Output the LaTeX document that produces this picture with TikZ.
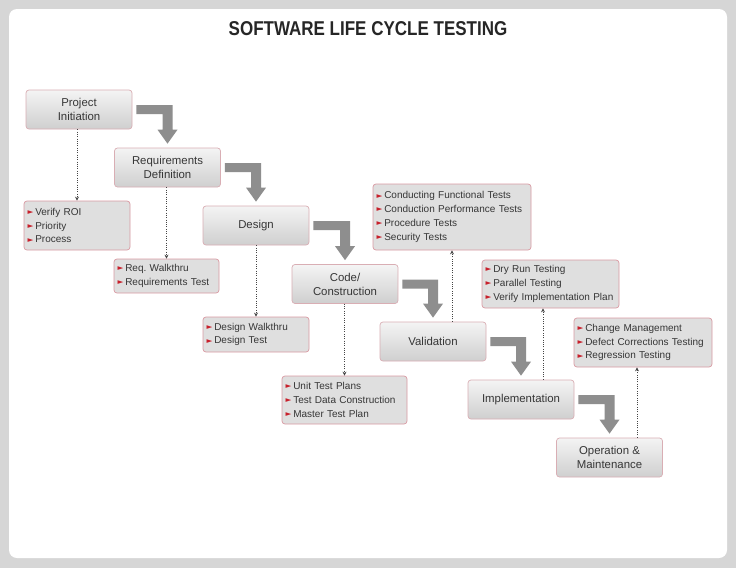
\documentclass[tikz,border=0pt]{standalone}
\usepackage{fontspec}
\setmainfont{Liberation Sans}
\setsansfont{Liberation Sans}
\newfontfamily\titlefont{Liberation Sans}[FakeStretch=0.85]
\newfontfamily\symfont{DejaVu Sans}
\usetikzlibrary{calc,arrows.meta}
\definecolor{bgcol}{HTML}{D6D6D6}
\definecolor{titlecol}{HTML}{262626}
\definecolor{txtcol}{HTML}{363636}
\definecolor{stageborder}{HTML}{D9AEB4}
\definecolor{boxborder}{HTML}{D99AA3}
\definecolor{stagetop}{HTML}{F4F4F4}
\definecolor{stagebot}{HTML}{CFCFCF}
\definecolor{boxfill}{HTML}{DFDFDF}
\definecolor{bulred}{HTML}{C8202C}
\definecolor{arrowgray}{HTML}{8E8E8E}
\definecolor{dotcol}{HTML}{454545}
\newcommand\bl{\raisebox{0.8pt}{\symfont\fontsize{7.5}{7.5}\selectfont\textcolor{bulred}{►}}\hspace{2pt}}
\newcommand\stagearrow[2]{%
  \fill[arrowgray] let \p1=(#1.east), \p2=(#2.north) in
   (\x1+4pt,\y1+4.5pt) -- (\x2+5pt,\y1+4.5pt) -- (\x2+5pt,\y2+18pt)
   -- (\x2+10pt,\y2+18pt) -- (\x2,\y2+4pt) -- (\x2-10pt,\y2+18pt)
   -- (\x2-5pt,\y2+18pt) -- (\x2-5pt,\y1-4.5pt) -- (\x1+4pt,\y1-4.5pt) -- cycle;}
\tikzset{
  stage/.style={draw=stageborder, line width=0.7pt, rounded corners=3pt,
    top color=stagetop, bottom color=stagebot, minimum width=106pt,
    minimum height=39pt, align=center, inner sep=0pt, text=txtcol,
    font=\fontsize{11.4}{14}\selectfont},
  bbox/.style={draw=boxborder, line width=0.7pt, rounded corners=3pt,
    fill=boxfill, align=left, inner xsep=3.5pt, inner ysep=0pt, text=txtcol,
    font=\fontsize{10}{13.8}\selectfont},
  dotarrow/.style={draw=dotcol, line width=0.75pt, dash pattern=on 1pt off 1.3pt,
    -{Stealth[length=4pt,width=4pt]}}
}
\begin{document}
\frenchspacing
\hyphenpenalty=10000
\begin{tikzpicture}[x=1pt,y=-1pt]
\useasboundingbox (0,0) rectangle (736,568);
\fill[bgcol] (0,0) rectangle (736,568);
\fill[white, rounded corners=8pt] (9,9) rectangle (727,558);

\node[font=\titlefont\bfseries\fontsize{20}{24}\selectfont, text=titlecol] (title) at (368,29) {SOFTWARE LIFE CYCLE TESTING};

% stages
\node[stage] (pi) at (79,109.5) {Project\\Initiation};
\node[stage] (rd) at (167.5,167.5) {Requirements\\Definition};
\node[stage] (de) at (256,225.5) {Design};
\node[stage] (co) at (345,284) {Code/\\Construction};
\node[stage] (va) at (433,341.5) {Validation};
\node[stage] (im) at (521,399.5) {Implementation};
\node[stage] (om) at (609.5,457.5) {Operation \&\\Maintenance};

% elbow arrows
\stagearrow{pi}{rd}
\stagearrow{rd}{de}
\stagearrow{de}{co}
\stagearrow{co}{va}
\stagearrow{va}{im}
\stagearrow{im}{om}

% bullet boxes
\node[bbox, minimum width=106pt, minimum height=49pt, text width=99pt] (b1) at (77,225.5)
  {\bl Verify ROI\\\bl Priority\\\bl Process};
\node[bbox, minimum width=105pt, minimum height=34pt, text width=98pt] (b2) at (166.5,276)
  {\bl Req. Walkthru\\\bl Requirements Test};
\node[bbox, minimum width=106pt, minimum height=35pt, text width=99pt] (b3) at (256,334.5)
  {\bl Design Walkthru\\\bl Design Test};
\node[bbox, minimum width=125pt, minimum height=48pt, text width=118pt] (b4) at (344.5,400)
  {\bl Unit Test Plans\\\bl Test Data Construction\\\bl Master Test Plan};
\node[bbox, minimum width=158pt, minimum height=66pt, text width=151pt] (b5) at (452,217)
  {\bl Conducting Functional Tests\\\bl Conduction Performance Tests\\\bl Procedure Tests\\\bl Security Tests};
\node[bbox, minimum width=137pt, minimum height=48pt, text width=130pt] (b6) at (550.5,284)
  {\bl Dry Run Testing\\\bl Parallel Testing\\\bl Verify Implementation Plan};
\node[bbox, minimum width=138pt, minimum height=49pt, text width=131pt] (b7) at (643,342.5)
  {\bl Change Management\\\bl Defect Corrections Testing\\\bl Regression Testing};

% dotted connectors
\draw[dotarrow] (b1.north |- pi.south) -- (b1.north);
\draw[dotarrow] (b2.north |- rd.south) -- (b2.north);
\draw[dotarrow] (b3.north |- de.south) -- (b3.north);
\draw[dotarrow] (b4.north |- co.south) -- (b4.north);
\draw[dotarrow] (b5.south |- va.north) -- (b5.south);
\draw[dotarrow] ($(im.north)+(22,0)$) -- ($(b6.south)+(-7.5,0)$);
\draw[dotarrow] ($(om.north)+(27.5,0)$) -- ($(b7.south)+(-6,0)$);
\end{tikzpicture}
\end{document}
